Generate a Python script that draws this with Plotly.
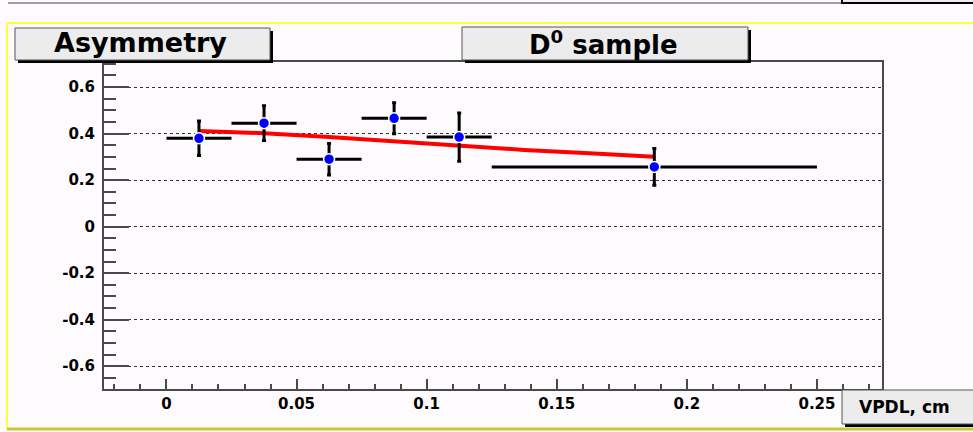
import plotly.graph_objects as go

# Asymmetry vs VPDL, D0 sample
vpdl_center = [0.0125, 0.0375, 0.0625, 0.0875, 0.1125, 0.1875]
vpdl_halfwidth = [0.0125, 0.0125, 0.0125, 0.0125, 0.0125, 0.0625]
asym = [0.380, 0.445, 0.290, 0.466, 0.385, 0.257]
asym_err = [0.074, 0.075, 0.068, 0.067, 0.104, 0.079]

# fitted curve sampled at bin centres
fit_x = [0.0125, 0.0375, 0.0625, 0.0875, 0.1125, 0.1375, 0.1625, 0.1875]
fit_y = [0.411, 0.402, 0.385, 0.366, 0.347, 0.330, 0.316, 0.301]

x_tickvals = [0, 0.05, 0.1, 0.15, 0.2, 0.25]
x_ticktext = ["0", "0.05", "0.1", "0.15", "0.2", "0.25"]
y_tickvals = [-0.6, -0.4, -0.2, 0, 0.2, 0.4, 0.6]
y_ticktext = ["-0.6", "-0.4", "-0.2", "0", "0.2", "0.4", "0.6"]

W_PX, H_PX = 973, 432
L, R, T, B = 104, 882, 62, 389
FONT = "DejaVu Sans"
AXIS_COL = "#4a4a4a"


def px(x):
    return (x - L) / (R - L)


def py(y):
    return (B - y) / (B - T)


fig = go.Figure()

fig.add_trace(go.Scatter(
    x=fit_x, y=fit_y, mode="lines",
    line=dict(color="#ff0000", width=4),
    hoverinfo="skip", showlegend=False,
))

fig.add_trace(go.Scatter(
    x=vpdl_center, y=asym, mode="markers",
    marker=dict(color="#0000ff", size=11, line=dict(color="white", width=1.5)),
    error_x=dict(type="data", array=vpdl_halfwidth, color="black", thickness=3, width=0),
    error_y=dict(type="data", array=asym_err, color="black", thickness=3, width=2),
    showlegend=False,
))

shapes = []


def line_px(x0, y0, x1, y1, color, width):
    shapes.append(dict(type="line", xref="paper", yref="paper",
                       x0=px(x0), y0=py(y0), x1=px(x1), y1=py(y1),
                       line=dict(color=color, width=width), layer="above"))


def label_box(x0, y0, x1, y1, shadow=3):
    shapes.append(dict(type="rect", xref="paper", yref="paper",
                       x0=px(x0 + shadow), y0=py(y1 + shadow), x1=px(x1 + shadow), y1=py(y0 + shadow),
                       fillcolor="black", line=dict(width=0), layer="above"))
    shapes.append(dict(type="rect", xref="paper", yref="paper",
                       x0=px(x0), y0=py(y1), x1=px(x1), y1=py(y0),
                       fillcolor="#ececec", line=dict(color="#555555", width=1), layer="above"))


# pad border and top strip
line_px(8, 3, 842, 3, "#a0a0a0", 2)
shapes.append(dict(type="rect", xref="paper", yref="paper",
                   x0=px(842), y0=py(3), x1=px(990), y1=py(-10),
                   fillcolor="#ececec", line=dict(color="black", width=2), layer="above"))
line_px(7, 23, 990, 23, "#ffff3a", 2)
line_px(7, 23, 7, 429, "#ffff3a", 2)
line_px(7, 429, 990, 429, "#c8c832", 3)

# label boxes
label_box(15, 28, 270, 60)
label_box(462, 27, 748, 60)
label_box(842, 390, 990, 424)

annotations = [
    dict(text="Asymmetry", xref="paper", yref="paper", x=px(140), y=py(43),
         xanchor="center", yanchor="middle", showarrow=False,
         font=dict(family=FONT, size=27, color="black", weight="bold")),
    dict(text="D<sup>0</sup> sample", xref="paper", yref="paper", x=px(603), y=py(43),
         xanchor="center", yanchor="middle", showarrow=False,
         font=dict(family=FONT, size=26, color="black", weight="bold")),
    dict(text="VPDL, cm", xref="paper", yref="paper", x=px(905), y=py(407),
         xanchor="center", yanchor="middle", showarrow=False,
         font=dict(family=FONT, size=17, color="black", weight="bold")),
]

tickfont = dict(family=FONT, size=15, color="black", weight="bold")

fig.update_layout(
    width=W_PX, height=H_PX,
    margin=dict(l=L, r=W_PX - R, t=T, b=H_PX - B, pad=0),
    paper_bgcolor="#fdfbfd", plot_bgcolor="#fdfbfd",
    shapes=shapes, annotations=annotations,
    xaxis=dict(
        range=[-0.024, 0.275], tickvals=x_tickvals, ticktext=x_ticktext,
        ticks="inside", ticklen=10, tickwidth=2, tickcolor=AXIS_COL,
        showline=True, linecolor=AXIS_COL, linewidth=2, mirror=True,
        showgrid=False, zeroline=False, tickfont=tickfont,
        minor=dict(dtick=0.01, tick0=0, ticks="inside", ticklen=5, tickwidth=1.5,
                   tickcolor=AXIS_COL, showgrid=False),
    ),
    yaxis=dict(
        range=[-0.698, 0.708], tickvals=y_tickvals, ticktext=y_ticktext,
        ticks="inside", ticklen=25, tickwidth=2, tickcolor=AXIS_COL,
        showline=True, linecolor=AXIS_COL, linewidth=2, mirror=True,
        showgrid=True, gridcolor="#333333", gridwidth=1, griddash="dot",
        zeroline=False, tickfont=tickfont, ticklabelstandoff=4,
        minor=dict(dtick=0.05, tick0=0, ticks="inside", ticklen=12, tickwidth=1.5,
                   tickcolor=AXIS_COL, showgrid=False),
    ),
)

fig.write_html("out.html")
